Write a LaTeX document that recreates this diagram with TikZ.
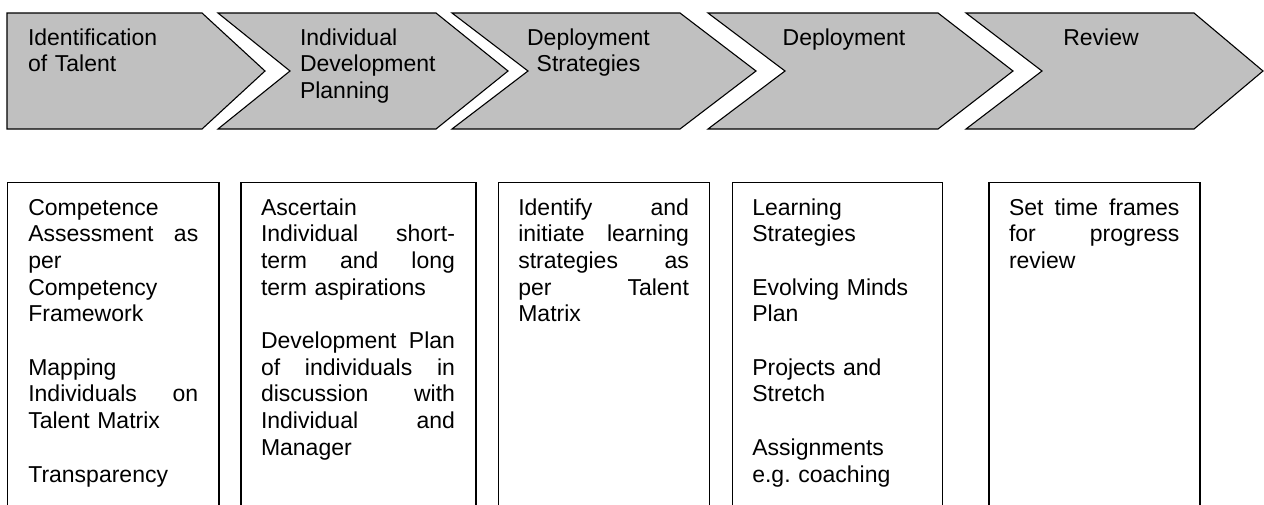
\documentclass[tikz,border=0pt]{standalone}
\usepackage{fontspec}
\setmainfont{Liberation Sans}
\setlength{\parindent}{0pt}
\frenchspacing
\definecolor{chevgray}{HTML}{C0C0C0}
% one justified line: the word gaps (\hfill) fill the full text width
\newcommand\jwidth{85pt}
\newcommand\jline[1]{\leavevmode\hbox to \jwidth{#1}}
\begin{document}
\begin{tikzpicture}[x=0.5pt,y=-0.5pt,
  chevron/.style={draw=black,fill=chevgray,line width=0.55pt,line join=miter},
  stagebox/.style={draw=black,line width=0.7pt},
  txt/.style={inner sep=0pt,outer sep=0pt,font=\fontsize{11.5pt}{13.35pt}\selectfont\frenchspacing},
  headleft/.style={txt,anchor=base west,text width=75pt,align=left},
  headmid/.style={txt,anchor=base,text width=80pt,align=center},
  boxtext/.style={txt,anchor=base west,text width=#1,align=left,
    execute at begin node={\renewcommand\jwidth{#1}}},
  boxtext/.default=85pt]
\useasboundingbox (0,0) rectangle (1264,504);
\clip (0,0) rectangle (1264,504);

% process chevrons
\draw[chevron] (7,13) -- (202,13) -- (265,71) -- (202,129) -- (7,129) -- cycle;
\draw[chevron] (218,13) -- (436,13) -- (508,71) -- (436,129) -- (218,129) -- (290,71) -- cycle;
\draw[chevron] (452,13) -- (680,13) -- (756,71) -- (680,129) -- (452,129) -- (528,71) -- cycle;
\draw[chevron] (708,13) -- (938,13) -- (1013,71) -- (938,129) -- (708,129) -- (785,71) -- cycle;
\draw[chevron] (966,13) -- (1194,13) -- (1263,71) -- (1194,129) -- (966,129) -- (1042,71) -- cycle;

% stage titles
\node[headleft] (h1) at (28,45) {Identification\\of Talent};
\node[headleft] (h2) at (300,45) {Individual\\Development\\Planning};
\node[headmid] (h3) at (588.5,45) {Deployment\\Strategies};
\node[headmid] (h4) at (844,45) {Deployment};
\node[headmid] (h5) at (1101,45) {Review};

% activity boxes (open at the bottom edge)
\draw[stagebox] (7.3,510) -- (7.3,182.7) -- (219,182.7) -- (219,510);
\draw[stagebox] (241,510) -- (241,182.7) -- (476,182.7) -- (476,510);
\draw[stagebox] (498.3,510) -- (498.3,182.7) -- (709.3,182.7) -- (709.3,510);
\draw[stagebox] (732.3,510) -- (732.3,182.7) -- (942.7,182.7) -- (942.7,510);
\draw[stagebox] (989,510) -- (989,182.7) -- (1200,182.7) -- (1200,510);

\node[boxtext] (b1) at (28.3,215) {Competence\\
\jline{Assessment\hfill as}\\
per\\
Competency\\
Framework\\[13.35pt]
Mapping\\
\jline{Individuals\hfill on}\\
Talent Matrix\\[13.35pt]
Transparency};

\node[boxtext=97pt] (b2) at (261,215) {Ascertain\\
\jline{Individual\hfill short-}\\
\jline{term\hfill and\hfill long}\\
term aspirations\\[13.35pt]
\jline{Development\hfill Plan}\\
\jline{of\hfill individuals\hfill in}\\
\jline{discussion\hfill with}\\
\jline{Individual\hfill and}\\
Manager};

\node[boxtext=85.3pt] (b3) at (518.3,215) {\jline{Identify\hfill and}\\
\jline{initiate\hfill learning}\\
\jline{strategies\hfill as}\\
\jline{per\hfill Talent}\\
Matrix};

\node[boxtext] (b4) at (752.3,215) {Learning\\
Strategies\\[13.35pt]
Evolving Minds\\
Plan\\[13.35pt]
Projects and\\
Stretch\\[13.35pt]
Assignments\\
e.g. coaching};

\node[boxtext=85.2pt] (b5) at (1009,215) {\jline{Set\hfill time\hfill frames}\\
\jline{for\hfill progress}\\
review};
\end{tikzpicture}
\end{document}
